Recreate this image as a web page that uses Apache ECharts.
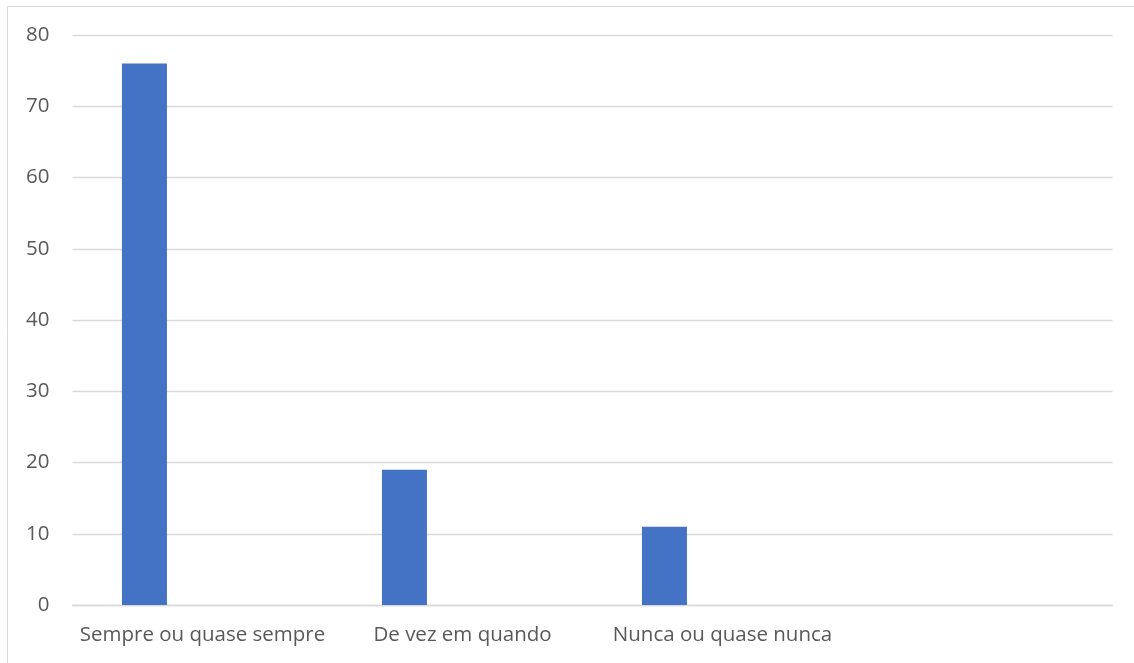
<!DOCTYPE html>
<html>
<head>
<meta charset="utf-8">
<script src="https://cdn.jsdelivr.net/npm/echarts@6/dist/echarts.min.js"></script>
<style>
  html, body { margin: 0; padding: 0; background: #fff; }
  #chart { width: 1134px; height: 663px; }
</style>
</head>
<body>
<div id="chart"></div>
<script>
// categorias (a quarta fica vazia, como no original)
const categories = ['Sempre ou quase sempre', 'De vez em quando', 'Nunca ou quase nunca', ''];
const values = [76, 19, 11, null];
// série vazia só para reproduzir o deslocamento das barras
const emptySeries = [null, null, null, null];
const yTicks = { min: 0, max: 80, interval: 10 };

const chart = echarts.init(document.getElementById('chart'));
const font = '"Open Sans", "Liberation Sans", sans-serif';

chart.setOption({
  animation: false,
  backgroundColor: '#fff',
  graphic: [{
    type: 'rect',
    shape: { x: 7.5, y: 6.5, width: 1140, height: 670 },
    style: { fill: 'none', stroke: '#d9d9d9', lineWidth: 1 },
    silent: true
  }],
  grid: { left: 72.5, right: 21.5, top: 35, bottom: 58, containLabel: false },
  xAxis: {
    type: 'category',
    data: categories,
    axisTick: { show: false },
    axisLine: { lineStyle: { color: '#d9d9d9', width: 1.3 } },
    axisLabel: { color: '#595959', fontSize: 20.5, fontFamily: font, margin: 20, interval: 0 }
  },
  yAxis: {
    type: 'value',
    min: yTicks.min,
    max: yTicks.max,
    interval: yTicks.interval,
    axisLine: { show: false },
    axisTick: { show: false },
    axisLabel: { color: '#595959', fontSize: 20.5, fontFamily: font, margin: 23 },
    splitLine: { lineStyle: { color: '#d9d9d9', width: 1.3 } }
  },
  series: [
    {
      type: 'bar',
      data: values,
      barWidth: 45,
      barGap: '158%',
      itemStyle: { color: '#4472c4' }
    },
    {
      type: 'bar',
      data: emptySeries,
      barWidth: 45,
      itemStyle: { color: '#ed7d31' }
    }
  ]
});
</script>
</body>
</html>
